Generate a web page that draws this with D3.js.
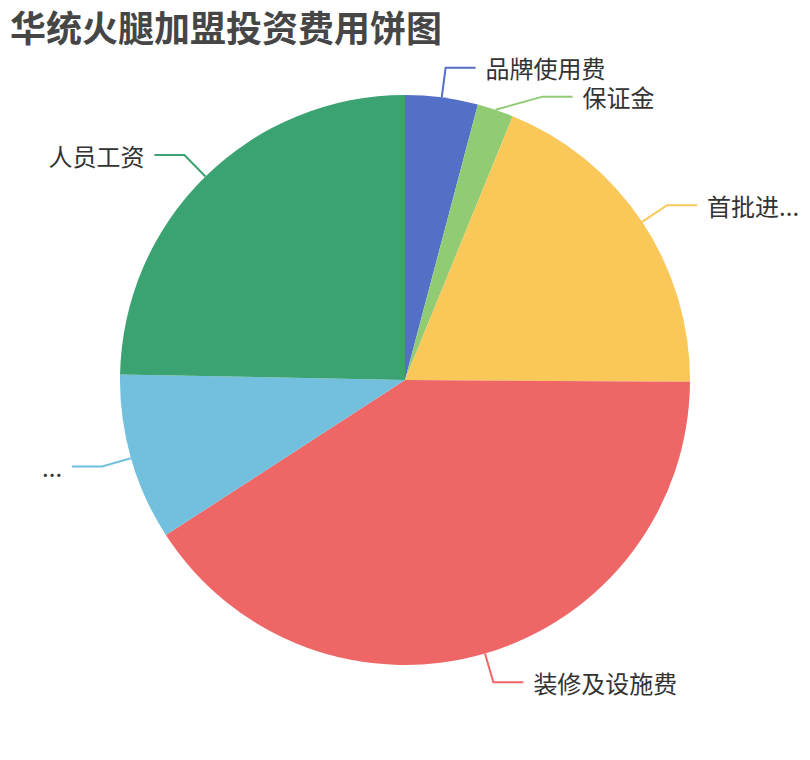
<!DOCTYPE html>
<html><head><meta charset="utf-8">
<script src="https://cdn.jsdelivr.net/npm/d3@7"></script>
<style>body{margin:0;background:#fff;}svg{display:block;}</style>
</head><body>
<svg id="chart" width="810" height="760"></svg>
<script>
const titleText = '华统火腿加盟投资费用饼图';
const categories = ['品牌使用费', '保证金', '首批进...', '装修及设施费', '...', '人员工资'];
const values = [2, 1, 9.2, 19.8, 4.6, 12];
const colors = ['#5470c6', '#91cc75', '#fac858', '#ee6666', '#73c0de', '#3ba272'];

const W = 810, H = 760;
const cx = 405, cy = 380, R = 285;
const len1 = 30, len2 = 30, gap = 10, minGap = 29;
const font = '"Noto Sans CJK SC","Noto Sans",sans-serif';

const svg = d3.select('#chart');
svg.append('text').attr('x', 10).attr('y', 26).attr('dominant-baseline', 'central')
  .attr('font-family', font).attr('font-size', 36).attr('font-weight', 'bold')
  .attr('fill', '#464646').text(titleText);

const data = categories.map((c, i) => ({name: c, value: values[i], color: colors[i]}));
const pie = d3.pie().value(d => d.value).sort(null);
const arcs = pie(data);
const arc = d3.arc().innerRadius(0).outerRadius(R);

const g = svg.append('g').attr('transform', `translate(${cx},${cy})`);
g.selectAll('path.slice').data(arcs).join('path').attr('class', 'slice')
  .attr('d', arc).attr('fill', d => d.data.color);

// label layout
const labels = arcs.map(a => {
  const m = (a.startAngle + a.endAngle) / 2;
  const sx = Math.sin(m), sy = -Math.cos(m);
  const side = sx >= 0 ? 1 : -1;
  return {a, side, p0: [R * sx, R * sy], ex: (R + len1) * sx, ey: (R + len1) * sy, color: a.data.color, name: a.data.name};
});
[1, -1].forEach(side => {
  const items = labels.filter(l => l.side === side).sort((p, q) => p.ey - q.ey);
  for (let i = 1; i < items.length; i++) {
    if (items[i].ey - items[i - 1].ey < minGap) {
      items[i].ey = items[i - 1].ey + minGap;
      const rr = R + len1;
      const dy = Math.min(Math.abs(items[i].ey), rr);
      items[i].ex = side * Math.sqrt(rr * rr - dy * dy);
    }
  }
});

const lg = g.append('g');
lg.selectAll('polyline').data(labels).join('polyline')
  .attr('points', d => [d.p0, [d.ex, d.ey], [d.ex + d.side * len2, d.ey]].map(p => p.join(',')).join(' '))
  .attr('fill', 'none').attr('stroke', d => d.color).attr('stroke-width', 2);
lg.selectAll('text').data(labels).join('text')
  .attr('x', d => d.ex + d.side * (len2 + gap)).attr('y', d => d.ey)
  .attr('text-anchor', d => d.side > 0 ? 'start' : 'end')
  .attr('dominant-baseline', 'central')
  .attr('font-family', font).attr('font-size', 24).attr('fill', '#333')
  .text(d => d.name);
</script>
</body></html>
